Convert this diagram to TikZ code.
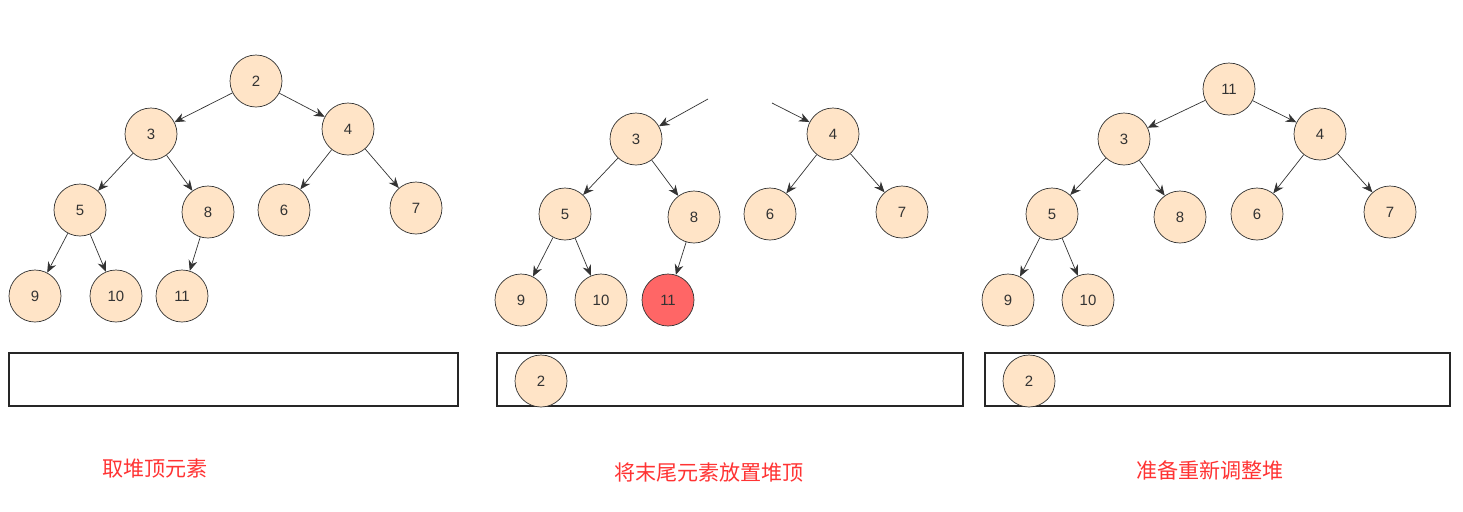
\documentclass[tikz,border=0pt]{standalone}
\usepackage{fontspec}
\setmainfont{Liberation Sans}
\newfontfamily\cjk{Noto Sans CJK SC}
\usetikzlibrary{arrows.meta}
\definecolor{heapfill}{HTML}{FFE4C7}
\definecolor{hotfill}{HTML}{FF6666}
\definecolor{labelred}{HTML}{FF3333}
\tikzset{
  heapnode/.style={circle, draw=black!80, fill=heapfill, minimum size=52*0.02cm, inner sep=0pt, font=\fontsize{8.5}{10}\selectfont, text=black!80},
  heapedge/.style={-{Stealth[length=6pt,width=5pt]}, draw=black!80, thin},
  arraybox/.style={draw=black!85, line width=1pt},
  caption/.style={text=labelred, font=\cjk\fontsize{12}{14}\selectfont}
}
\begin{document}
\begin{tikzpicture}[x=0.02cm, y=-0.02cm]
    \useasboundingbox (0,0) rectangle (1463,511);
%____________________________________________________________________________________________________
    \node[heapnode] (a2) at (256,81) {2};
    \node[heapnode] (a3) at (151,134) {3};
    \node[heapnode] (a4) at (348,129) {4};
    \node[heapnode] (a5) at (80,210) {5};
    \node[heapnode] (a8) at (208,212) {8};
    \node[heapnode] (a6) at (284,210) {6};
    \node[heapnode] (a7) at (416,208) {7};
    \node[heapnode] (a9) at (35,296) {9};
    \node[heapnode] (a10) at (116,296) {10};
    \node[heapnode] (a11) at (182,296) {11};
    \foreach \p/\c in {a2/a3, a2/a4, a3/a5, a3/a8, a4/a6, a4/a7, a5/a9, a5/a10, a8/a11}
        \draw[heapedge] (\p) -- (\c);
    \draw[arraybox] (9,353) rectangle (458,406);
    \node[caption] (capa) at (155,468) {取堆顶元素};
%____________________________________________________________________________________________________
    \coordinate (bl) at (708,99);
    \coordinate (br) at (772,103);
    \node[heapnode] (b3) at (636,139) {3};
    \node[heapnode] (b4) at (833,134) {4};
    \node[heapnode] (b5) at (565,214) {5};
    \node[heapnode] (b8) at (694,217) {8};
    \node[heapnode] (b6) at (770,214) {6};
    \node[heapnode] (b7) at (902,212) {7};
    \node[heapnode] (b9) at (521,300) {9};
    \node[heapnode] (b10) at (601,300) {10};
    \node[heapnode, fill=hotfill] (b11) at (668,300) {11};
    \draw[heapedge] (bl) -- (b3);
    \draw[heapedge] (br) -- (b4);
    \foreach \p/\c in {b3/b5, b3/b8, b4/b6, b4/b7, b5/b9, b5/b10, b8/b11}
        \draw[heapedge] (\p) -- (\c);
    \draw[arraybox] (497,353) rectangle (963,406);
    \node[heapnode] (btop) at (541,381) {2};
    \node[caption] (capb) at (709,472) {将末尾元素放置堆顶};
%____________________________________________________________________________________________________
    \node[heapnode] (c11) at (1229,89) {11};
    \node[heapnode] (c3) at (1124,139) {3};
    \node[heapnode] (c4) at (1320,134) {4};
    \node[heapnode] (c5) at (1052,214) {5};
    \node[heapnode] (c8) at (1180,217) {8};
    \node[heapnode] (c6) at (1257,214) {6};
    \node[heapnode] (c7) at (1390,212) {7};
    \node[heapnode] (c9) at (1008,300) {9};
    \node[heapnode] (c10) at (1088,300) {10};
    \foreach \p/\c in {c11/c3, c11/c4, c3/c5, c3/c8, c4/c6, c4/c7, c5/c9, c5/c10}
        \draw[heapedge] (\p) -- (\c);
    \draw[arraybox] (985,353) rectangle (1450,406);
    \node[heapnode] (ctop) at (1029,381) {2};
    \node[caption] (capc) at (1210,470) {准备重新调整堆};
\end{tikzpicture}
\end{document}
